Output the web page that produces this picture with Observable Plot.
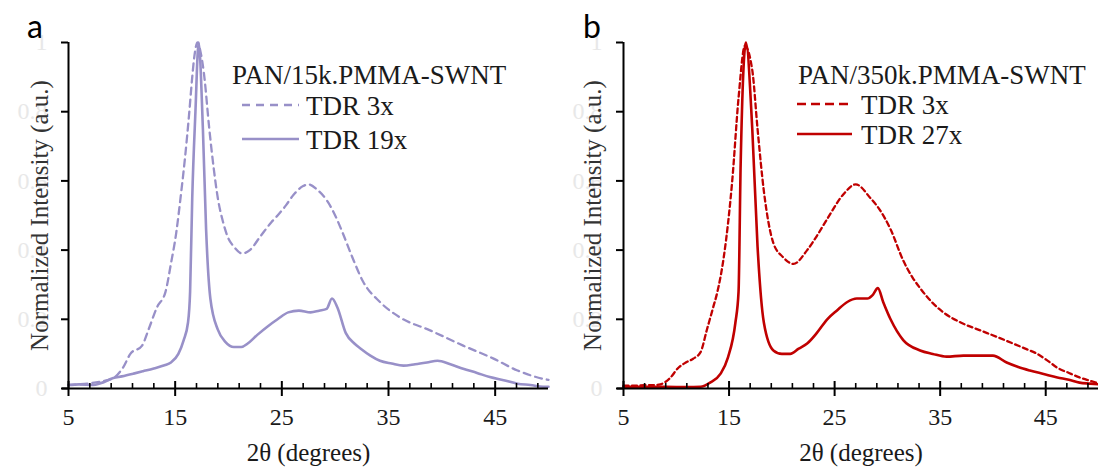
<!DOCTYPE html>
<html>
<head>
<meta charset="utf-8">
<script src="https://cdn.jsdelivr.net/npm/d3@7"></script>
<script src="https://cdn.jsdelivr.net/npm/@observablehq/plot@0.6"></script>
<style>
  html, body { margin: 0; padding: 0; background: #fff; }
  #wrap { position: relative; width: 1098px; height: 474px; overflow: hidden; background: #fff; }
  .panel { position: absolute; top: 0; width: 549px; height: 474px; }
  #overlay { position: absolute; left: 0; top: 0; pointer-events: none; }
  #wrap svg text { font-family: 'Liberation Serif', serif !important; }
  #wrap svg text.letter { font-family: Lato, 'Open Sans', sans-serif !important; }
</style>
</head>
<body>
<div id="wrap">
  <div class="panel" id="pa" style="left:0"></div>
  <div class="panel" id="pb" style="left:549px"></div>
</div>
<script>
// ---- Data ----
const xTickMajor = [5, 15, 25, 35, 45];
const xTickMinor = [7, 9, 11, 13, 17, 19, 21, 23, 27, 29, 31, 33, 37, 39, 41, 43, 47, 49];
const yTicks = [0, 0.2, 0.4, 0.6, 0.8, 1];
const yTickLabels = ["0", "0.2", "0.4", "0.6", "0.8", "1"];
const xLabel = "2θ (degrees)";
const yLabel = "Normalized Intensity (a.u.)";

// Panel a: PAN/15k.PMMA-SWNT
const a3xX = [5,6,7,8,9.2,10.1,10.8,11.9,12.5,13.3,14.1,14.6,15.1,15.5,15.9,16.3,16.6,16.8,17.1,17.4,17.7,18.2,18.6,19,19.5,19.9,20.5,21.3,22,23,24,24.6,25.4,26.1,27,27.5,28.3,29.3,30,30.7,31.6,32.6,34.2,36.1,38.9,42,44.8,47.1,49.5,50];
const a3xY = [.01,.012,.015,.02,.03,.06,.1,.124,.17,.235,.28,.36,.45,.55,.66,.79,.9,.96,1,.97,.91,.75,.64,.55,.48,.44,.41,.39,.40,.44,.48,.50,.53,.56,.585,.59,.575,.54,.5,.45,.38,.31,.25,.205,.168,.124,.087,.052,.028,.025];
const a19xX = [5,6,7.3,8,9.2,10,11.1,12,13,14,14.6,15.3,15.8,16.2,16.4,16.6,16.9,17.2,17.6,17.9,18.3,19,19.7,20.5,21.2,21.8,22.7,23.7,24.6,25.6,26.6,27.7,28.5,29.2,29.7,30.2,31,31.8,32.4,33.3,34.2,35.3,36.4,37.5,38.6,39.6,40.8,42,43.3,44.5,45.8,47.1,48.3,49.5,50];
const a19xY = [.01,.012,.01,.015,.03,.035,.043,.05,.058,.067,.075,.1,.14,.19,.28,.55,.8,1.0,.75,.46,.26,.17,.135,.12,.12,.13,.155,.18,.2,.22,.225,.22,.225,.23,.26,.235,.16,.13,.115,.095,.08,.072,.066,.07,.075,.08,.07,.057,.045,.033,.024,.014,.01,.005,.005];

// Panel b: PAN/350k.PMMA-SWNT
const b3xX = [5,6,7,8,8.5,9.4,10.2,10.9,11.6,12.3,12.9,13.5,13.9,14.5,15.3,15.9,16.5,17.2,17.7,18.3,19.2,20.1,21.1,22.4,23.3,24.3,25.8,27,28.4,29.2,30.3,31.5,32.4,33.1,34.2,35.3,37,38.8,40.3,41.9,43,44.2,45.2,46.1,47.2,48.2,49,49.8];
const b3xY = [.008,.008,.01,.01,.012,.03,.06,.075,.086,.105,.17,.235,.28,.38,.6,.84,.99,.92,.75,.57,.42,.38,.36,.40,.44,.49,.56,.59,.55,.52,.46,.37,.32,.29,.25,.22,.19,.168,.15,.13,.116,.10,.08,.06,.045,.032,.024,.017];
const b27xX = [5,7,9,11,12.3,13.2,14.2,14.9,15.6,15.9,16.1,16.6,17.2,17.7,18.3,19.2,20,20.8,21.6,22.4,23.3,24.3,25.2,26.2,27.1,28.1,28.6,29.1,29.6,30.3,31.5,33.1,34.3,35.6,37.2,38.8,40,41.3,42.4,43.5,44.8,46.1,47.2,48.2,49.2,50];
const b27xY = [.005,.005,.005,.004,.005,.017,.043,.09,.19,.28,.65,1.0,.75,.41,.19,.11,.1,.1,.115,.13,.16,.2,.225,.25,.26,.26,.27,.29,.25,.2,.14,.11,.1,.092,.095,.095,.095,.075,.062,.052,.042,.032,.025,.017,.014,.012];

const panels = [
  {id: "pa", letter: "a", title: "PAN/15k.PMMA-SWNT", names: ["TDR 3x", "TDR 19x"],
   dashed: {x: a3xX, y: a3xY}, solid: {x: a19xX, y: a19xY},
   color: "#9890c8", dash: "7,5", legendDash: "8,6", marginLeft: 68, marginRight: 1, ylabDx: -29},
  {id: "pb", letter: "b", title: "PAN/350k.PMMA-SWNT", names: ["TDR 3x", "TDR 27x"],
   dashed: {x: b3xX, y: b3xY}, solid: {x: b27xX, y: b27xY},
   color: "#c00000", dash: "5,3.5", legendDash: "9,5", marginLeft: 74, marginRight: 0, ylabDx: -31}
];

const H = 474, MT = 42, MB = 86, INNER = H - MT - MB;
const serifCss = "'Liberation Serif', serif";

function rows(s) { return s.x.map((x, i) => ({x, y: s.y[i]})); }

for (const p of panels) {
  const chart = Plot.plot({
    width: 549, height: H,
    marginLeft: p.marginLeft, marginRight: p.marginRight, marginTop: MT, marginBottom: MB,
    x: {domain: [5, 50]},
    y: {domain: [0, 1]},
    style: {fontFamily: serifCss, fontSize: "24px", background: "transparent", overflow: "visible", color: "#000"},
    marks: [
      Plot.axisY(yTicks, {tickSize: 7, strokeWidth: 2, tickPadding: 14, stroke: "#000", fill: "#e8e8e8",
        fontSize: 24, tickFormat: d => yTickLabels[yTicks.indexOf(d)], label: null}),
      Plot.axisX(xTickMajor, {tickSize: 0, tickPadding: 19, fill: "#1a1a1a", fontSize: 24, label: null}),
      Plot.line(rows(p.dashed), {x: "x", y: "y", stroke: p.color, strokeWidth: 2.3, strokeDasharray: p.dash, curve: "monotone-x"}),
      Plot.line(rows(p.solid), {x: "x", y: "y", stroke: p.color, strokeWidth: 2.6, curve: "monotone-x"}),
      Plot.tickX(xTickMinor, {x: d => d, insetTop: INNER - 5, stroke: "#000", strokeWidth: 1.6}),
      Plot.tickX(xTickMajor, {x: d => d, insetTop: INNER - 7, insetBottom: -8, stroke: "#000", strokeWidth: 2}),
      Plot.ruleY([0], {stroke: "#000", strokeWidth: 2, insetLeft: -6}),
      Plot.ruleX([5], {stroke: "#000", strokeWidth: 2}),
      Plot.text([yLabel], {text: d => d, frameAnchor: "left", textAnchor: "middle", rotate: -90, dx: p.ylabDx,
        fill: "#333", fontSize: 25}),
      Plot.text([xLabel], {text: d => d, frameAnchor: "bottom", textAnchor: "middle", dy: 72,
        fill: "#1a1a1a", fontSize: 25})
    ]
  });
  chart.querySelectorAll("text").forEach(t => { t.style.fontFamily = serifCss; });
  document.getElementById(p.id).appendChild(chart);
}

// ---- Legends and panel letters (overlay) ----
const ns = "http://www.w3.org/2000/svg";
const ov = document.createElementNS(ns, "svg");
ov.setAttribute("id", "overlay");
ov.setAttribute("width", 1098);
ov.setAttribute("height", 474);
document.getElementById("wrap").appendChild(ov);

function el(tag, attrs, text, style) {
  const e = document.createElementNS(ns, tag);
  for (const k in attrs) e.setAttribute(k, attrs[k]);
  if (style) e.setAttribute("style", style);
  if (text != null) e.textContent = text;
  ov.appendChild(e);
  return e;
}

const legendPos = [
  {letterX: 35, titleX: 232, lineX1: 242, lineX2: 299, textX: 306, y0: 75, y1: 105, y2: 139},
  {letterX: 592, titleX: 798, lineX1: 797, lineX2: 852, textX: 861, y0: 75, y1: 104, y2: 134}
];
const legStyle = "font-family: 'Liberation Serif', serif; font-size: 27px;";

panels.forEach((p, i) => {
  const L = legendPos[i];
  el("text", {x: L.letterX, y: 38, "text-anchor": "middle", fill: "#000", class: "letter"}, p.letter,
     "font-family: Lato, 'Open Sans', sans-serif; font-size: 32px;");
  el("text", {x: L.titleX, y: L.y0, "dominant-baseline": "central", fill: "#1a1a1a"}, p.title, legStyle);
  el("line", {x1: L.lineX1, x2: L.lineX2, y1: L.y1, y2: L.y1, stroke: p.color, "stroke-width": 2.3, "stroke-dasharray": p.legendDash});
  el("text", {x: L.textX, y: L.y1 + 1, "dominant-baseline": "central", fill: "#1a1a1a"}, p.names[0], legStyle);
  el("line", {x1: L.lineX1, x2: L.lineX2, y1: L.y2, y2: L.y2, stroke: p.color, "stroke-width": 2.3});
  el("text", {x: L.textX, y: L.y2 + 1, "dominant-baseline": "central", fill: "#1a1a1a"}, p.names[1], legStyle);
});
</script>
</body>
</html>
